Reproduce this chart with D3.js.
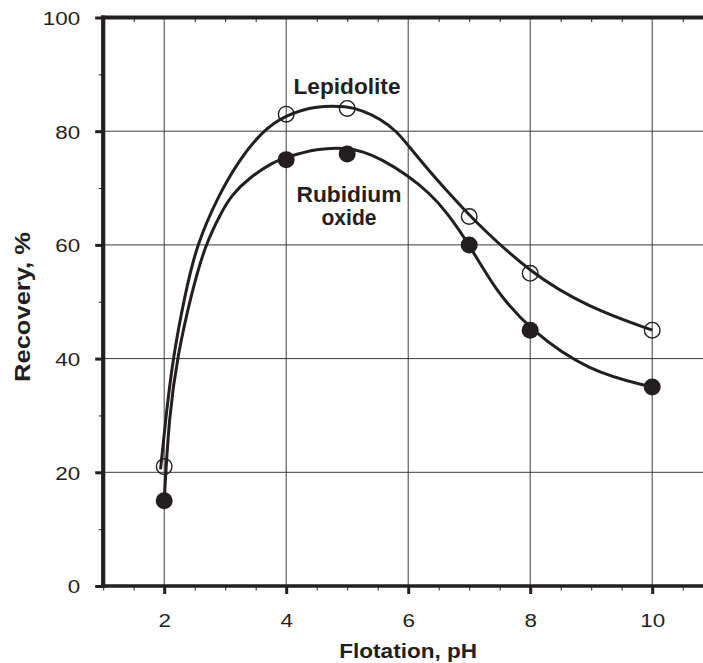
<!DOCTYPE html>
<html>
<head>
<meta charset="utf-8">
<script src="https://cdn.jsdelivr.net/npm/d3@7"></script>
<style>
  body { margin: 0; background: #fff; }
  svg { display: block; }
  text { font-family: "Liberation Sans", Arial, sans-serif; fill: #231f20; }
</style>
</head>
<body>
<div id="chart-area"></div>
<script>
// measured points
const phValues = [2, 4, 5, 7, 8, 10];
const lepidolite = [21, 83, 84, 65, 55, 45];
const rubidiumOxide = [15, 75, 76, 60, 45, 35];

// the smooth curves drawn by hand in the figure
const lepidoliteCurvePH = [1.94, 2.03, 2.15, 2.34, 2.53, 2.89, 3.21, 3.6, 4, 4.5, 5.0, 5.26, 5.54, 5.81, 6.0, 6.36, 6.63, 7, 8, 8.96, 10];
const lepidoliteCurveR = [20.5, 30, 40.6, 51.2, 60, 68.7, 74.6, 80, 82.9, 84.5, 84.4, 83.6, 82.2, 80, 77.5, 72.8, 69.6, 65.1, 55, 49, 45];
const rubidiumCurvePH = [2.0, 2.08, 2.22, 2.44, 2.67, 2.94, 3.1, 3.38, 3.79, 4, 4.5, 5.0, 5.26, 5.54, 6.0, 6.36, 6.63, 7, 7.43, 8, 8.96, 10];
const rubidiumCurveR = [15, 30, 40.6, 51.2, 60, 65.8, 68.7, 71.7, 74.6, 75.4, 77, 77.1, 76.4, 75.2, 72.2, 69, 65.8, 60.1, 52, 45, 37.7, 35];

// axis ticks
const xMajorTicks = [2, 4, 6, 8, 10];
const xMinorTicks = [1, 1.5, 2.5, 3, 3.5, 4.5, 5, 5.5, 6.5, 7, 7.5, 8.5, 9, 9.5, 10.5];
const yMajorTicks = [0, 20, 40, 60, 80, 100];
const yMinorTicks = [10, 30, 50, 70, 90];

const ink = "#231f20";
const W = 703, H = 663;

const svg = d3.select("#chart-area").append("svg")
    .attr("width", W)
    .attr("height", H);

const x = d3.scaleLinear().domain([1, 11]).range([103.2, 713.2]);
const y = d3.scaleLinear().domain([0, 100]).range([586, 17.5]);

// grid
svg.append("g").selectAll("line")
    .data(xMajorTicks)
    .join("line")
    .attr("x1", d => x(d)).attr("x2", d => x(d))
    .attr("y1", y(100)).attr("y2", y(0))
    .attr("stroke", "#3a3a3a").attr("stroke-width", 1);

svg.append("g").selectAll("line")
    .data(yMajorTicks.filter(d => d > 0 && d < 100))
    .join("line")
    .attr("x1", x(1)).attr("x2", W)
    .attr("y1", d => y(d)).attr("y2", d => y(d))
    .attr("stroke", "#3a3a3a").attr("stroke-width", 1);

// curves
const line = d3.line()
    .x(d => x(d[0]))
    .y(d => y(d[1]))
    .curve(d3.curveBasis);

svg.append("path")
    .datum(d3.zip(lepidoliteCurvePH, lepidoliteCurveR))
    .attr("d", line)
    .attr("fill", "none").attr("stroke", ink).attr("stroke-width", 3)
    .attr("stroke-linejoin", "round");

svg.append("path")
    .datum(d3.zip(rubidiumCurvePH, rubidiumCurveR))
    .attr("d", line)
    .attr("fill", "none").attr("stroke", ink).attr("stroke-width", 3)
    .attr("stroke-linejoin", "round");

// markers
svg.append("g").selectAll("circle")
    .data(d3.zip(phValues, lepidolite))
    .join("circle")
    .attr("cx", d => x(d[0])).attr("cy", d => y(d[1]))
    .attr("r", 7.8)
    .attr("fill", "none").attr("stroke", ink).attr("stroke-width", 1.4);

svg.append("g").selectAll("circle")
    .data(d3.zip(phValues, rubidiumOxide))
    .join("circle")
    .attr("cx", d => x(d[0])).attr("cy", d => y(d[1]))
    .attr("r", 8.5)
    .attr("fill", ink);

// axes
function styleAxis(g, majorWidth) {
    g.select(".domain").remove();
    g.selectAll(".tick line").attr("stroke", ink).attr("stroke-width", majorWidth);
}

// bottom minor
svg.append("g")
    .attr("transform", `translate(0,${y(0)})`)
    .call(d3.axisBottom(x).tickValues(xMinorTicks).tickSize(4.5).tickFormat(""))
    .call(g => styleAxis(g, 1));

// bottom major
svg.append("g")
    .attr("transform", `translate(0,${y(0)})`)
    .call(d3.axisBottom(x).tickValues(xMajorTicks).tickSize(8).tickPadding(20))
    .call(g => {
        styleAxis(g, 3);
        g.selectAll(".tick text")
            .attr("y", 0).attr("dy", null)
            .attr("transform", "translate(0,41) scale(1.18,1)")
            .style("font-size", "19px")
            .attr("fill", ink);
    });

// top minor ticks pointing in
svg.append("g")
    .attr("transform", `translate(0,${y(100)})`)
    .call(d3.axisTop(x).tickValues(xMinorTicks.filter(d => d > 1)).tickSize(-4.5).tickFormat(""))
    .call(g => styleAxis(g, 1));

// left minor
svg.append("g")
    .attr("transform", `translate(${x(1)},0)`)
    .call(d3.axisLeft(y).tickValues(yMinorTicks).tickSize(4.5).tickFormat(""))
    .call(g => styleAxis(g, 1));

// left major
svg.append("g")
    .attr("transform", `translate(${x(1)},0)`)
    .call(d3.axisLeft(y).tickValues(yMajorTicks).tickSize(8))
    .call(g => {
        styleAxis(g, 3);
        g.selectAll(".tick text")
            .attr("x", -19.5).attr("dy", "0.36em")
            .attr("transform", "scale(1.18,1)")
            .style("font-size", "19px")
            .attr("fill", ink);
    });

// frame lines
svg.append("line")
    .attr("x1", x(1)).attr("x2", x(1))
    .attr("y1", y(100) - 2).attr("y2", y(0) + 2)
    .attr("stroke", ink).attr("stroke-width", 4.2);
svg.append("line")
    .attr("x1", x(1) - 2).attr("x2", W)
    .attr("y1", y(100)).attr("y2", y(100))
    .attr("stroke", ink).attr("stroke-width", 3.8);
svg.append("line")
    .attr("x1", x(1) - 2).attr("x2", W)
    .attr("y1", y(0)).attr("y2", y(0))
    .attr("stroke", ink).attr("stroke-width", 3.6);

// axis titles
svg.append("text")
    .attr("x", x(6)).attr("y", 658)
    .attr("text-anchor", "middle")
    .attr("textLength", 138).attr("lengthAdjust", "spacingAndGlyphs")
    .style("font-size", "21px").style("font-weight", "bold")
    .text("Flotation, pH");

svg.append("text")
    .attr("transform", "translate(30,307) rotate(-90)")
    .attr("text-anchor", "middle")
    .attr("textLength", 150).attr("lengthAdjust", "spacingAndGlyphs")
    .style("font-size", "22px").style("font-weight", "bold")
    .text("Recovery, %");

// series labels
svg.append("text")
    .attr("x", 347).attr("y", 94)
    .attr("text-anchor", "middle")
    .attr("textLength", 107).attr("lengthAdjust", "spacingAndGlyphs")
    .style("font-size", "22px").style("font-weight", "bold")
    .text("Lepidolite");

svg.append("text")
    .attr("x", 349).attr("y", 201.5)
    .attr("text-anchor", "middle")
    .attr("textLength", 105).attr("lengthAdjust", "spacingAndGlyphs")
    .style("font-size", "22px").style("font-weight", "bold")
    .text("Rubidium");

svg.append("text")
    .attr("x", 349).attr("y", 225)
    .attr("text-anchor", "middle")
    .attr("textLength", 55).attr("lengthAdjust", "spacingAndGlyphs")
    .style("font-size", "22px").style("font-weight", "bold")
    .text("oxide");
</script>
</body>
</html>
